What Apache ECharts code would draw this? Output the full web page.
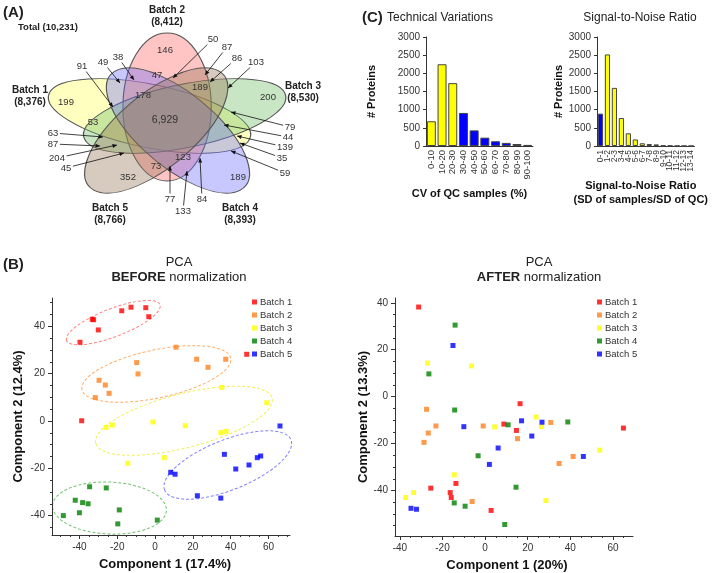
<!DOCTYPE html>
<html><head><meta charset="utf-8">
<script src="https://cdn.jsdelivr.net/npm/echarts@6/dist/echarts.min.js"></script>
<style>html,body{margin:0;padding:0;background:#fff}#c{width:720px;height:573px}</style>
</head><body><div id="c"></div>
<script>
const FONT = '"Liberation Sans", Arial, Helvetica, sans-serif';

// ---------------- DATA ----------------
const vennSets = ['Batch 1', 'Batch 2', 'Batch 3', 'Batch 4', 'Batch 5'];
const vennSetTotals = [8376, 8412, 8530, 8393, 8766];
const vennTotal = 10231;
const vennInsideCounts = [146, 199, 200, 189, 352, 6929, 47, 178, 189, 53, 123, 73];
const vennCalloutCounts = [91, 49, 38, 50, 87, 86, 103, 79, 44, 139, 35, 59, 84, 133, 77, 45, 204, 87, 63];

const cvCategories = ['0-10', '10-20', '20-30', '30-40', '40-50', '50-60', '60-70', '70-80', '80-90', '90-100'];
const cvCounts = [680, 2250, 1730, 910, 430, 230, 130, 85, 55, 30];
const snrCategories = ['0-1', '1-2', '2-3', '3-4', '4-5', '5-6', '6-7', '7-8', '8-9', '9-10', '10-11', '11-12', '12-13', '13-14'];
const snrCounts = [890, 2520, 1600, 770, 350, 180, 75, 55, 45, 15, 10, 4, 2, 1];

const batchNames = ['Batch 1', 'Batch 2', 'Batch 3', 'Batch 4', 'Batch 5'];
const b1Before = [[-39.7,33.3],[-33.2,43.0],[-32.5,42.8],[-30.0,38.5],[-17.6,46.6],[-12.7,48.1],[-4.9,47.9],[-3.3,44.1],[-38.8,0.1],[48.5,28.2]];
const b2Before = [[11.1,31.2],[-9.7,24.7],[-9.0,19.9],[-29.6,17.2],[-26.3,15.2],[-24.3,11.7],[-31.6,9.9],[22.0,26.1],[37.4,26.1],[28.0,22.7]];
const b3Before = [[-25.9,-2.7],[-22.6,-1.7],[-1.1,-0.4],[-14.4,-17.9],[4.9,-15.5],[35.3,14.2],[59.1,7.7],[16.0,-2.0],[34.8,-4.9],[37.6,-4.4]];
const b4Before = [[-48.5,-40.0],[-42.2,-33.5],[-40.0,-38.8],[-38.3,-34.5],[-35.4,-35.0],[-34.6,-27.8],[-25.8,-28.3],[-18.9,-37.6],[-19.7,-43.5],[1.2,-41.9]];
const b5Before = [[8.3,-21.7],[10.6,-22.5],[66.1,-2.1],[36.7,-14.1],[54.1,-15.5],[55.9,-14.8],[49.7,-18.6],[42.7,-20.3],[22.4,-31.6],[34.8,-32.6]];

const b1After = [[-31.2,38.2],[16.4,-3.0],[8.8,-11.7],[14.7,-14.4],[-25.5,-39.0],[-13.7,-37.0],[-16.4,-40.9],[-15.9,-43.0],[2.8,-48.5],[64.9,-13.4]];
const b2After = [[-27.5,-5.4],[-23.1,-12.5],[-26.7,-15.5],[-28.7,-19.5],[-0.9,-12.5],[15.2,-17.9],[-6.1,-44.7],[30.8,-11.0],[41.3,-25.5],[34.7,-28.5]];
const b3After = [[-27.0,14.3],[-6.4,13.1],[4.5,-12.9],[23.9,-8.7],[-14.5,-33.3],[-33.6,-40.9],[-37.3,-43.0],[26.4,-12.8],[53.8,-22.8],[28.5,-44.3]];
const b4After = [[-14.1,30.5],[-26.4,9.7],[-14.3,-5.7],[10.8,-12.0],[-3.3,-25.2],[14.5,-38.6],[-14.5,-45.3],[-9.4,-46.7],[9.2,-54.5],[38.8,-10.8]];
const b5After = [[-15.1,21.8],[-10.0,-12.8],[17.1,-10.3],[21.9,-16.8],[6.1,-21.9],[2.0,-28.9],[-34.8,-47.6],[-32.2,-48.0],[26.7,-10.9],[46.1,-25.5]];

// group ellipse centres (data units), Batch 1..5
const beforeEllipseCenters = [[-22.1,41.6],[0.7,19.9],[15.3,0.1],[-24.1,-36.8],[38.5,-18.6]];

const xTicks = [-40, -20, 0, 20, 40, 60];
const yTicks = [-40, -20, 0, 20, 40];

// ---------------- LAYOUT / STYLE ----------------
const batchColors = ['#ff0000', '#ff7f1e', '#ffff00', '#008000', '#0000ff'];
const ellipseColors = ['#ff8080', '#ffad66', '#f2ee55', '#70c070', '#8080ff'];
const ellipseShape = [[50,14,21],[76,24,12],[91,27,14.4],[57,26,-2.5],[68,25,21.7]]; // rx, ry, rotation(deg) in px

const vennCenter = [133, 120], vennLong = 74, vennShort = 31, vennShift = 13;
const vennStretch = 1.424, vennOffsetX = -22.3;
const vennAngles = [162, 90, 18, -54, -126];
const vennFills = ['rgba(255,255,90,0.38)', 'rgba(255,100,100,0.38)', 'rgba(110,190,100,0.38)', 'rgba(110,110,255,0.38)', 'rgba(150,115,85,0.38)'];
const vennSetLabelPos = [[30,90],[167,10],[303,86],[240,208],[110,208]];
const vennInsidePos = [[165,50],[66,102],[268,97],[238,177],[128,177],[165,120],[157,75],[143,95],[200,87],[93,122],[183,157],[156,166]];
const vennCalloutPos = [ // label x,y, arrow tip x,y
  [82,66, 113,107],
  [103,62, 120,83],
  [118,57, 134,80],
  [213,39, 173,78],
  [227,47, 205,75],
  [237,58, 210,82],
  [256,62, 228,88],
  [290,127, 231,112],
  [288,137, 224,125],
  [285,147, 237,136],
  [282,158, 240,143],
  [285,173, 231,151],
  [202,199, 200,158],
  [183,211, 187,171],
  [170,199, 170,166],
  [66,168, 124,153],
  [57,158, 117,145],
  [53,144, 100,146],
  [53,133, 103,137]
];

const fmt = v => v.toLocaleString('en-US');
const chart = echarts.init(document.getElementById('c'), null, {renderer: 'canvas'});

function txt(x, y, text, size, bold, extra) {
  return {
    type: 'text', x: x, y: y, silent: true,
    style: Object.assign({text: text, fill: '#222', font: (bold ? 'bold ' : '') + size + 'px ' + FONT,
      align: 'center', verticalAlign: 'middle'}, extra || {})
  };
}

function vennGraphics() {
  const g = [];
  const children = vennAngles.map((a, i) => {
    const r = a * Math.PI / 180;
    return {
      type: 'ellipse', x: vennCenter[0] + vennShift * Math.cos(r), y: vennCenter[1] - vennShift * Math.sin(r),
      rotation: r, shape: {cx: 0, cy: 0, rx: vennLong, ry: vennShort}, silent: true,
      style: {fill: vennFills[i], stroke: '#555', lineWidth: 1, strokeNoScale: true}
    };
  });
  g.push({type: 'group', x: vennOffsetX, y: 0, scaleX: vennStretch, scaleY: 1, children: children});
  vennInsideCounts.forEach((v, i) => {
    g.push(txt(vennInsidePos[i][0], vennInsidePos[i][1], fmt(v), v > 1000 ? 10.5 : 9.5, false, {fill: '#333'}));
  });
  vennCalloutCounts.forEach((v, i) => {
    const p = vennCalloutPos[i];
    const s = fmt(v);
    g.push(txt(p[0], p[1], s, 9.5, false, {fill: '#333'}));
    const dx = p[2] - p[0], dy = p[3] - p[1], len = Math.hypot(dx, dy);
    const ux = dx / len, uy = dy / len;
    const hw = s.length * 2.7 + 1.5, hh = 5.5;
    const t = Math.min(Math.abs(ux) > 1e-6 ? hw / Math.abs(ux) : 1e9, Math.abs(uy) > 1e-6 ? hh / Math.abs(uy) : 1e9);
    const sx = p[0] + ux * t, sy = p[1] + uy * t;
    g.push({type: 'line', silent: true, shape: {x1: sx, y1: sy, x2: p[2], y2: p[3]}, style: {stroke: '#111', lineWidth: 0.8}});
    const L = 4.5, W = 2;
    const bx = p[2] - L * ux, by = p[3] - L * uy;
    g.push({type: 'polygon', silent: true, shape: {points: [[p[2], p[3]],
      [bx + W * uy, by - W * ux], [bx - W * uy, by + W * ux]]}, style: {fill: '#111'}});
  });
  vennSets.forEach((s, i) => {
    const p = vennSetLabelPos[i];
    g.push(txt(p[0], p[1], s, 10, true));
    g.push(txt(p[0], p[1] + 12, '(' + fmt(vennSetTotals[i]) + ')', 10, true));
  });
  g.push(txt(48, 27, 'Total (' + fmt(vennTotal) + ')', 9.5, true));
  return g;
}

function staticGraphics() {
  return [
    txt(3, 13, '(A)', 15, true, {align: 'left'}),
    txt(3, 265, '(B)', 15, true, {align: 'left'}),
    txt(362, 18, '(C)', 15, true, {align: 'left'}),
    txt(440, 18, 'Technical Variations', 12, false),
    txt(640, 18, 'Signal-to-Noise Ratio', 12, false),
    txt(179, 262, 'PCA', 13, false),
    {type: 'text', x: 179, y: 277, silent: true, style: {text: '{b|BEFORE} normalization', font: '13px ' + FONT,
      fill: '#222', align: 'center', verticalAlign: 'middle', rich: {b: {fontWeight: 'bold', fontSize: 13, fontFamily: FONT, fill: '#222'}}}},
    txt(539, 262, 'PCA', 13, false),
    {type: 'text', x: 539, y: 277, silent: true, style: {text: '{b|AFTER} normalization', font: '13px ' + FONT,
      fill: '#222', align: 'center', verticalAlign: 'middle', rich: {b: {fontWeight: 'bold', fontSize: 13, fontFamily: FONT, fill: '#222'}}}}
  ];
}

const axisTxt = {color: '#333', fontSize: 10, fontFamily: FONT};
const nameTxt = {color: '#111', fontSize: 13, fontWeight: 'bold', fontFamily: FONT};
const lineStyle = {color: '#333', width: 1};

function barCat(cats, gi, name, gap, shift, labelSize) {
  return {type: 'category', gridIndex: gi, data: cats, position: 'bottom',
    axisLine: {lineStyle: lineStyle}, axisTick: {show: false},
    axisLabel: Object.assign({rotate: 90, interval: 0, margin: 4}, axisTxt, {fontSize: labelSize}),
    name: name, nameLocation: 'middle', nameGap: gap,
    nameTextStyle: Object.assign({}, nameTxt, {fontSize: 11, lineHeight: 14, padding: [0, shift, 0, 0]})};
}
function barVal(gi, gap) {
  return {type: 'value', gridIndex: gi, min: 0, max: 3000, interval: 500,
    axisLine: {show: true, lineStyle: lineStyle}, axisTick: {show: true, length: 3, lineStyle: lineStyle},
    splitLine: {show: false}, axisLabel: Object.assign({margin: 6, formatter: v => String(v)}, axisTxt),
    name: '# Proteins', nameLocation: 'middle', nameGap: gap, nameTextStyle: Object.assign({}, nameTxt, {fontSize: 11})};
}
function minorVals(min, max) { const a = []; for (let v = Math.ceil(min / 5) * 5; v <= max; v += 5) a.push(v); return a; }
function pcaAxis(dim, gi, min, max, ticks, name, gap, shift) {
  const main = {type: 'value', gridIndex: gi, min: min, max: max, position: dim === 'x' ? 'bottom' : 'left',
    axisLine: {onZero: false, lineStyle: lineStyle}, splitLine: {show: false},
    axisTick: {show: true, length: 4, customValues: ticks, lineStyle: lineStyle},
    axisLabel: Object.assign({customValues: ticks, margin: 7}, axisTxt),
    name: name, nameLocation: 'middle', nameGap: gap,
    nameTextStyle: Object.assign({}, nameTxt, {padding: [0, shift, 0, 0]})};
  const minor = {type: 'value', gridIndex: gi, min: min, max: max, position: dim === 'x' ? 'bottom' : 'left',
    axisLine: {show: false, onZero: false}, splitLine: {show: false}, axisLabel: {show: false},
    axisTick: {show: true, length: 2, customValues: minorVals(min, max), lineStyle: lineStyle}};
  return [main, minor];
}

const px1 = pcaAxis('x', 2, -54.5, 71.4, xTicks, 'Component 1 (17.4%)', 23, 12);
const py1 = pcaAxis('y', 2, -48.2, 52, yTicks, 'Component 2 (12.4%)', 27, 0);
const px2 = pcaAxis('x', 3, -42.3, 69.4, xTicks, 'Component 1 (20%)', 23, 14);
const py2 = pcaAxis('y', 3, -59.4, 42.05, yTicks, 'Component 2 (13.3%)', 22, 0);

const beforeSets = [b1Before, b2Before, b3Before, b4Before, b5Before];
const afterSets = [b1After, b2After, b3After, b4After, b5After];

const series = [
  {type: 'bar', xAxisIndex: 0, yAxisIndex: 0, barCategoryGap: '16%',
    data: cvCounts.map((v, i) => ({value: v, itemStyle: {color: i < 3 ? '#ffff00' : '#0000ff'}})),
    itemStyle: {borderColor: '#444', borderWidth: 1}},
  {type: 'bar', xAxisIndex: 1, yAxisIndex: 1, barCategoryGap: '25%',
    data: snrCounts.map((v, i) => ({value: v, itemStyle: {color: i < 1 ? '#0000ff' : '#ffff00'}})),
    itemStyle: {borderColor: '#444', borderWidth: 1}}
];
beforeSets.forEach((d, i) => series.push({type: 'scatter', name: batchNames[i], xAxisIndex: 2, yAxisIndex: 2,
  symbol: 'rect', symbolSize: 5, data: d, itemStyle: {color: batchColors[i]}, z: 3}));
afterSets.forEach((d, i) => series.push({type: 'scatter', name: batchNames[i], xAxisIndex: 4, yAxisIndex: 4,
  symbol: 'rect', symbolSize: 5, data: d, itemStyle: {color: batchColors[i]}, z: 3}));

const legendBase = {orient: 'vertical', top: 296, itemWidth: 5, itemHeight: 5, itemGap: 1, icon: 'rect', padding: 0,
  selectedMode: false, data: batchNames, textStyle: {fontSize: 9.5, color: '#333', fontFamily: FONT, lineHeight: 12, padding: [0, 0, 0, -2]}};

const option = {
  animation: false,
  backgroundColor: '#fff',
  textStyle: {fontFamily: FONT},
  grid: [
    {left: 426, top: 37, width: 107, height: 109},
    {left: 597, top: 37, width: 120, height: 109},
    {left: 52, top: 298, width: 238, height: 237},
    {left: 395, top: 298, width: 238, height: 238}
  ],
  xAxis: [barCat(cvCategories, 0, 'CV of QC samples (%)', 41, 20, 9.5),
    barCat(snrCategories, 1, 'Signal-to-Noise Ratio\n(SD of samples/SD of QC)', 33, 10, 8.5),
    px1[0], px1[1], px2[0], px2[1]],
  yAxis: [barVal(0, 49), barVal(1, 33), py1[0], py1[1], py2[0], py2[1]],
  legend: [Object.assign({left: 252}, legendBase), Object.assign({left: 597}, legendBase)],
  series: series,
  graphic: {elements: vennGraphics().concat(staticGraphics())}
};
chart.setOption(option);

// dashed group ellipses on the BEFORE plot, centred via the axes
const ell = beforeEllipseCenters.map((c, i) => {
  const p = chart.convertToPixel({xAxisIndex: 2, yAxisIndex: 2}, c);
  const s = ellipseShape[i];
  return {type: 'ellipse', x: p[0], y: p[1], rotation: s[2] * Math.PI / 180, silent: true,
    shape: {cx: 0, cy: 0, rx: s[0], ry: s[1]}, style: {fill: 'none', stroke: ellipseColors[i], lineWidth: 1, lineDash: [3, 2]}};
});
chart.setOption({graphic: {elements: vennGraphics().concat(staticGraphics()).concat(ell)}});
</script>
</body></html>
